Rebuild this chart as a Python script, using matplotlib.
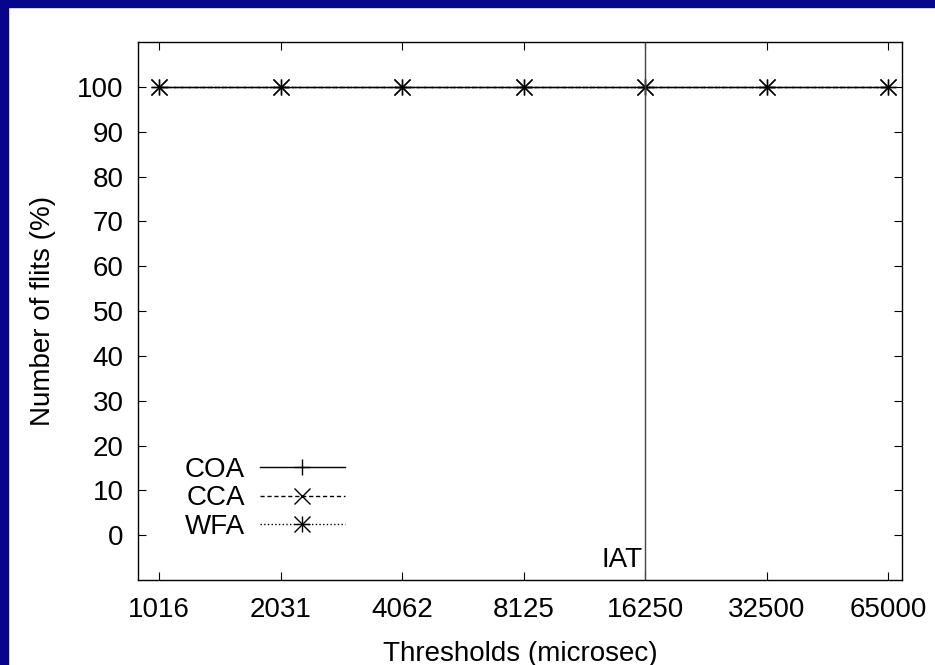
import matplotlib
matplotlib.use("Agg")
import matplotlib.pyplot as plt
from matplotlib.patches import Rectangle
from matplotlib.lines import Line2D

plt.rcParams['font.family'] = ['Liberation Sans', 'DejaVu Sans']
plt.rcParams['font.size'] = 20

thresholds = [1016, 2031, 4062, 8125, 16250, 32500, 65000]
coa = [100, 100, 100, 100, 100, 100, 100]
cca = [100, 100, 100, 100, 100, 100, 100]
wfa = [100, 100, 100, 100, 100, 100, 100]
iat = 16250

fig = plt.figure(figsize=(9.35, 6.65), dpi=100)
ax = fig.add_axes([0.1476, 0.1278, 0.8171, 0.809])

# dark frame on the left and top edges
navy = '#06068c'
fig.patches.append(Rectangle((0, 0), 8 / 935, 1, transform=fig.transFigure,
                             color=navy, zorder=0))
fig.patches.append(Rectangle((0, 1 - 7 / 665), 1, 7 / 665, transform=fig.transFigure,
                             color=navy, zorder=0))

ax.plot(thresholds, coa, '-', color='black', lw=1.0, marker='+', ms=12, mew=1.0, label='COA')
ax.plot(thresholds, cca, '--', color='black', lw=1.0, marker='x', ms=11, mew=1.0,
        dashes=(3, 2), label='CCA')
ax.plot(thresholds, wfa, ':', color='black', lw=1.0, marker='x', ms=11, mew=1.0, label='WFA')
# the asterisk is a plus laid over a cross
ax.plot(thresholds, wfa, ' ', color='black', marker='+', ms=12, mew=1.0)

ax.axvline(iat, color='#444444', lw=1.0)
ax.annotate('IAT', xy=(iat, -5.5), xytext=(-2, 0), textcoords='offset points',
            ha='right', va='center')

ax.set_xscale('log', base=2)
ax.set_xlim(900, 70300)
ax.set_ylim(-10, 110)
ax.set_xticks(thresholds)
ax.set_xticklabels([str(t) for t in thresholds])
ax.minorticks_off()
ax.set_yticks(range(0, 101, 10))
ax.tick_params(direction='in', top=True, right=True, length=6, width=0.8)
ax.tick_params(axis='x', pad=12)
ax.tick_params(axis='y', pad=10.5)
for s in ax.spines.values():
    s.set_linewidth(1.0)

ax.set_xlabel('Thresholds (microsec)', labelpad=13)
ax.set_ylabel('Number of flits (%)', labelpad=15)

# legend handles: rebuild the WFA entry with both marker parts
h_coa = Line2D([], [], color='black', lw=1.0, marker='+', ms=12, mew=1.0)
h_cca = Line2D([], [], color='black', lw=1.0, ls='--', dashes=(3, 2), marker='x', ms=11, mew=1.0)
h_wfa = Line2D([], [], color='black', lw=1.0, ls=':', marker='x', ms=11, mew=1.0)
h_wfa2 = Line2D([], [], color='black', ls='', marker='+', ms=12, mew=1.0)
ax.legend([h_coa, h_cca, (h_wfa, h_wfa2)], ['COA', 'CCA', 'WFA'],
          loc='lower left', bbox_to_anchor=(0.061, 0.074), frameon=False,
          markerfirst=False, handlelength=3.06, handletextpad=0.54,
          labelspacing=0.1, borderpad=0, borderaxespad=0)

fig.savefig('out.png', dpi=100)
